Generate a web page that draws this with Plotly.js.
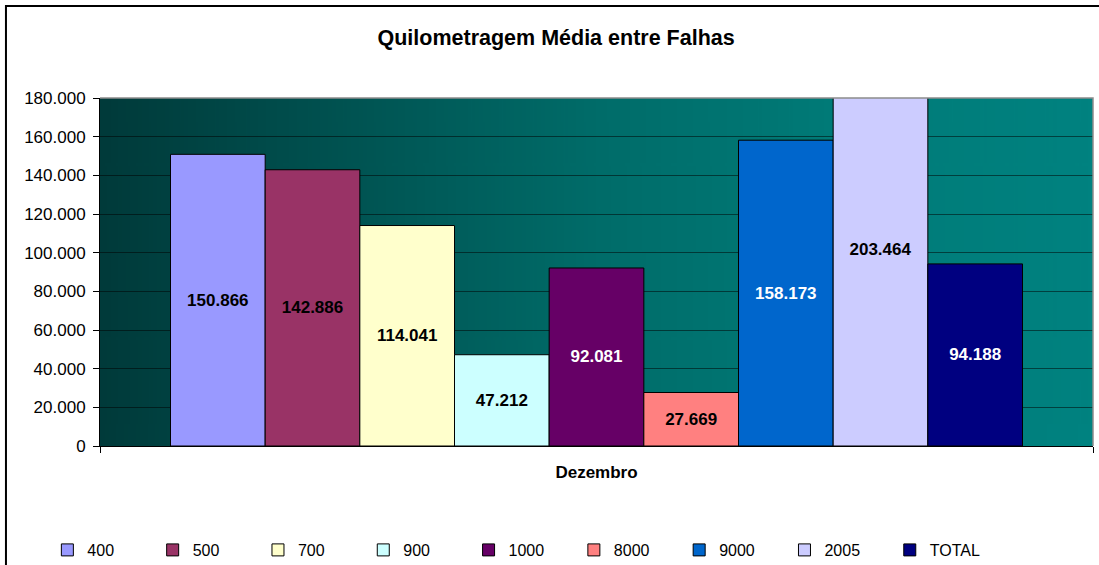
<!DOCTYPE html>
<html>
<head>
<meta charset="utf-8">
<script src="https://cdn.plot.ly/plotly-3.0.1.min.js"></script>
<style>
html,body{margin:0;padding:0;background:#fff;}
#chart{width:1099px;height:565px;}
</style>
</head>
<body>
<div id="chart"></div>
<script>
// ---- data ----
const categories = ["Dezembro"];
const seriesNames = ["400", "500", "700", "900", "1000", "8000", "9000", "2005", "TOTAL"];
const seriesValues = [150866, 142886, 114041, 47212, 92081, 27669, 158173, 203464, 94188];
const seriesColors = ["#9999FF", "#993366", "#FFFFCC", "#CCFFFF", "#660066", "#FF8080", "#0066CC", "#CCCCFF", "#000080"];
const labelColors = ["#000", "#000", "#000", "#000", "#fff", "#000", "#fff", "#000", "#fff"];
const yTickVals = [0, 20000, 40000, 60000, 80000, 100000, 120000, 140000, 160000, 180000];

// background gradient
const cv = document.createElement('canvas');
cv.width = 512; cv.height = 8;
const ctx = cv.getContext('2d');
const g = ctx.createLinearGradient(0, 0, 512, 0);
g.addColorStop(0, '#003a3a');
g.addColorStop(0.5, '#006c69');
g.addColorStop(0.75, '#007b78');
g.addColorStop(1, '#008280');
ctx.fillStyle = g;
ctx.fillRect(0, 0, 512, 8);
const bgURL = cv.toDataURL('image/png');

const FONT = 'Liberation Sans, Arial, sans-serif';

const traces = seriesNames.map((name, i) => ({
  type: 'bar',
  name: name,
  x: categories,
  y: [seriesValues[i]],
  marker: {color: seriesColors[i], line: {color: '#000', width: 1}},
  texttemplate: '<b>%{y:,d}</b>',
  textposition: 'inside',
  insidetextanchor: 'middle',
  textangle: 0,
  constraintext: 'none',
  textfont: {family: FONT, size: 17, color: labelColors[i]},
  hoverinfo: 'skip'
}));

const layout = {
  width: 1099, height: 565,
  margin: {l: 100, r: 6, t: 98, b: 119, autoexpand: false},
  paper_bgcolor: '#ffffff',
  plot_bgcolor: 'rgba(0,0,0,0)',
  separators: ',.',
  font: {family: FONT, size: 17, color: '#000'},
  title: {
    text: '<b>Quilometragem Média entre Falhas</b>',
    font: {family: FONT, size: 21.5, color: '#000'},
    xref: 'container', x: 0.506, xanchor: 'center',
    yref: 'container', y: 1 - 37 / 565, yanchor: 'middle'
  },
  barmode: 'group',
  bargap: 0.142,
  bargroupgap: 0,
  showlegend: true,
  legend: {
    orientation: 'h',
    xanchor: 'left', x: -0.053,
    yanchor: 'middle', y: -(550 - 446) / 348,
    font: {family: FONT, size: 16, color: '#000'},
    entrywidth: 60.3, entrywidthmode: 'pixels',
    traceorder: 'normal',
    bgcolor: 'rgba(0,0,0,0)'
  },
  xaxis: {
    type: 'category',
    tickson: 'boundaries',
    ticks: 'outside', ticklen: 6, tickcolor: '#000', tickwidth: 1,
    showline: true, linecolor: '#000', linewidth: 1,
    showgrid: false,
    tickfont: {family: FONT, size: 17, color: '#000'},
    tickvals: categories,
    ticktext: categories.map(c => '<b>' + c + '</b>'),
    ticklabelstandoff: 11,
    fixedrange: true
  },
  yaxis: {
    range: [0, 180000],
    tickvals: yTickVals,
    tickformat: ',d',
    ticks: 'outside', ticklen: 6, tickcolor: '#000', tickwidth: 1,
    showline: true, linecolor: '#000', linewidth: 1,
    showgrid: true, gridcolor: 'rgba(0,0,0,0.5)', gridwidth: 1,
    zeroline: false,
    tickfont: {family: FONT, size: 17, color: '#000'},
    ticklabelstandoff: 4,
    fixedrange: true
  },
  images: [{
    source: bgURL, xref: 'paper', yref: 'paper',
    x: 0, y: 1, sizex: 1, sizey: 1,
    sizing: 'stretch', layer: 'below', xanchor: 'left', yanchor: 'top'
  }],
  shapes: [
    {type: 'path', xref: 'paper', yref: 'paper', path: 'M 0 1 L 1 1 L 1 0',
     line: {color: '#8c8c8c', width: 1.5}, layer: 'above'},
    {type: 'path', xref: 'paper', yref: 'paper',
     path: 'M -0.0947 -0.5 L -0.0947 1.2644 L 1.2 1.2644',
     line: {color: '#000', width: 2}, layer: 'above'}
  ]
};

Plotly.newPlot('chart', traces, layout, {displayModeBar: false, staticPlot: true});
</script>
</body>
</html>
